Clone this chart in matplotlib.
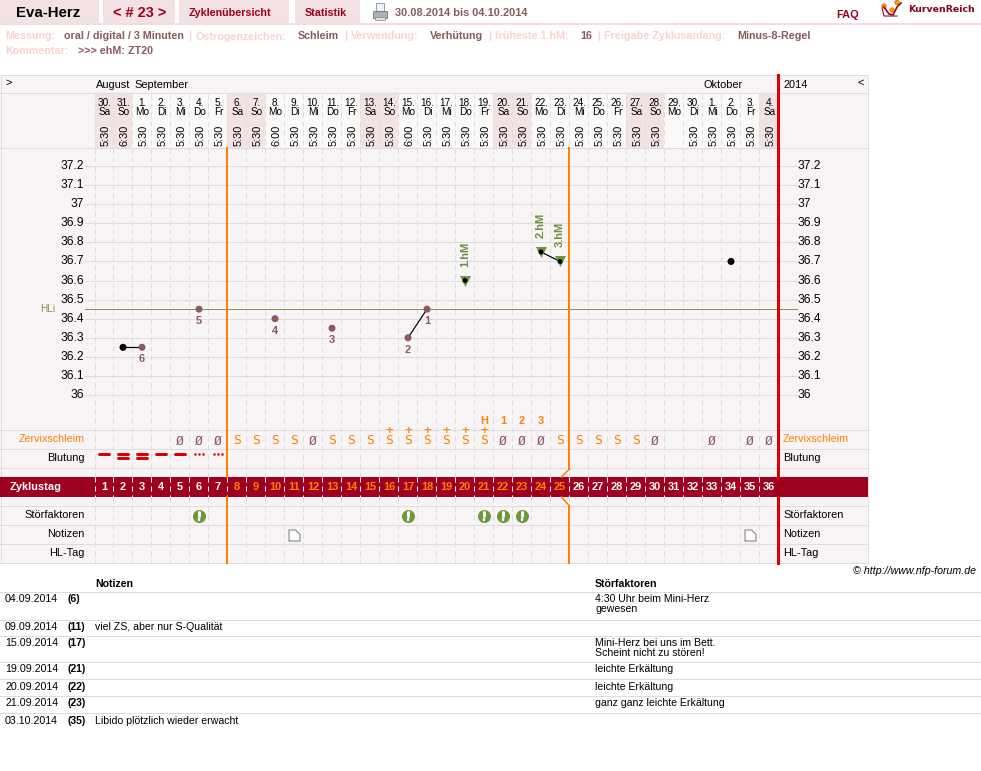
import matplotlib
matplotlib.use('Agg')
import matplotlib.pyplot as plt
from matplotlib.lines import Line2D
from matplotlib.patches import Rectangle, Circle, Polygon
from matplotlib.path import Path
from matplotlib.transforms import blended_transform_factory

plt.rcParams['font.family'] = ['Liberation Sans', 'DejaVu Sans']

# Kalender
tag_nr = [30, 31, 1, 2, 3, 4, 5, 6, 7, 8, 9, 10, 11, 12, 13, 14, 15, 16, 17, 18,
          19, 20, 21, 22, 23, 24, 25, 26, 27, 28, 29, 30, 1, 2, 3, 4]
wochentag = ['Sa', 'So', 'Mo', 'Di', 'Mi', 'Do', 'Fr', 'Sa', 'So', 'Mo', 'Di', 'Mi',
             'Do', 'Fr', 'Sa', 'So', 'Mo', 'Di', 'Mi', 'Do', 'Fr', 'Sa', 'So', 'Mo',
             'Di', 'Mi', 'Do', 'Fr', 'Sa', 'So', 'Mo', 'Di', 'Mi', 'Do', 'Fr', 'Sa']
uhrzeit = ['5:30', '6:30', '5:30', '5:30', '5:30', '5:30', '5:30', '5:30', '5:30',
           '6:00', '5:30', '5:30', '5:30', '5:30', '5:30', '5:30', '6:00', '5:30',
           '5:30', '5:30', '5:30', '5:30', '5:30', '5:30', '5:30', '5:30', '5:30',
           '5:30', '5:30', '5:30', '', '5:30', '5:30', '5:30', '5:30', '5:30']

# Temperaturkurve
temp_ticks = [36, 36.1, 36.2, 36.3, 36.4, 36.5, 36.6, 36.7, 36.8, 36.9, 37, 37.1, 37.2]
temp_labels = ['36', '36.1', '36.2', '36.3', '36.4', '36.5', '36.6', '36.7', '36.8',
               '36.9', '37', '37.1', '37.2']
mess_tage = [2, 3, 6, 10, 13, 17, 18, 20, 24, 25, 34]
mess_werte = [36.25, 36.25, 36.45, 36.40, 36.35, 36.30, 36.45, 36.60, 36.75, 36.70, 36.70]
verbunden = [(2, 3), (17, 18), (24, 25)]
tief_tage = [3, 6, 10, 13, 17, 18]
tief_nummer = ['6', '5', '4', '3', '2', '1']
hoch_tage = [20, 24, 25]
hoch_namen = ['1.hM', '2.hM', '3.hM']
hilfslinie = 36.45

# Zeilen unter der Kurve
zs_tage = [5, 6, 7, 8, 9, 10, 11, 12, 13, 14, 15, 16, 17, 18, 19, 20, 21, 22, 23, 24,
           25, 26, 27, 28, 29, 30, 33, 35, 36]
zs_werte = ['Ø', 'Ø', 'Ø', 'S', 'S', 'S', 'S', 'Ø', 'S', 'S', 'S', 'S+', 'S+', 'S+',
            'S+', 'S+', 'S+', 'Ø', 'Ø', 'Ø', 'S', 'S', 'S', 'S', 'S', 'Ø', 'Ø', 'Ø', 'Ø']
hoch_zs_tage = [21, 22, 23, 24]
hoch_zs_text = ['H', '1', '2', '3']
blutung = [1, 2, 2, 1, 1, 3, 3]
stoer_tage = [6, 17, 21, 22, 23]
notiz_tage = [11, 35]
zyklustage = list(range(1, 37))
freigabe_bis = 7
hoch_ende = 25

# Tabelle
tab_datum = ['04.09.2014', '09.09.2014', '15.09.2014', '19.09.2014', '20.09.2014',
             '21.09.2014', '03.10.2014']
tab_tag = ['(6)', '(11)', '(17)', '(21)', '(22)', '(23)', '(35)']
tab_notiz = ['', 'viel ZS, aber nur S-Qualität', '', '', '', '', 'Libido plötzlich wieder erwacht']
tab_stoer = ['4:30 Uhr beim Mini-Herz\ngewesen', '', 'Mini-Herz bei uns im Bett.\nScheint nicht zu stören!',
             'leichte Erkältung', 'leichte Erkältung', 'ganz ganz leichte Erkältung', '']

BG = '#f8f3f4'
WEEKEND = '#f3e2e4'
GRID = '#dddddd'
ORANGE = '#ff8000'
RED = '#dd0000'
DARKRED = '#a0001f'
BROWN = '#8b5a5f'
GREEN = '#6a9a3a'
PINK = '#f9d2d2'
W, H = 981, 771

fig = plt.figure(figsize=(W / 100, H / 100), dpi=100)
ax = fig.add_axes([0, 0, 1, 1])
ax.set_xlim(0, W)
ax.set_ylim(H, 0)
ax.axis('off')


def px(size):
    return size * 0.72


def txt(x, y, s, size=11, color='black', weight='normal', ha='left', va='center', **kw):
    return ax.text(x, y, s, fontsize=px(size), color=color, fontweight=weight, ha=ha, va=va, **kw)


def hline(y, x0=0, x1=868, color=GRID, lw=1):
    ax.add_line(Line2D([x0, x1], [y, y], color=color, lw=px(lw)))


# Kopfzeile
for x0, x1 in [(0, 99), (103, 175), (179, 289), (295, 360)]:
    ax.add_patch(Rectangle((x0, 0), x1 - x0, 23, fc='#f3e2e4', ec='none'))
ax.add_patch(Rectangle((0, 23), W, 2, fc='#f3dde0', ec='none'))
txt(16, 13, 'Eva-Herz', 15, 'black', 'bold')
txt(113, 13, '< # 23 >', 14.5, DARKRED, 'bold')
txt(189, 12.5, 'Zyklenübersicht', 10.8, DARKRED, 'bold')
txt(305, 12.5, 'Statistik', 10.8, DARKRED, 'bold')
txt(395, 12.5, '30.08.2014 bis 04.10.2014', 11, BROWN, 'bold')
txt(836, 14.5, 'FAQ', 11, DARKRED, 'bold')
txt(908, 10, 'KurvenReich', 9.4, '#8b0020', 'bold', family='DejaVu Sans')

# Druckersymbol
ax.add_patch(Rectangle((376, 3), 8, 8, fc='#eef2f6', ec='#8a8f96', lw=0.6))
ax.add_patch(Polygon([(373, 18), (373, 11), (387, 11), (387, 18)], fc='#aab0b6', ec='#777777', lw=0.6))
ax.add_patch(Rectangle((375, 17), 10, 3, fc='#dfe3e6', ec='#888888', lw=0.5))

# Logo
ax.add_line(Line2D([884, 889, 893, 897, 901], [7, 14, 15, 7, 3], color='#a0001f', lw=1.2))
ax.add_line(Line2D([882, 884, 897], [8, 16, 16], color='#a0001f', lw=0.8))
for cx, cy in [(884, 6), (897, 2.5), (892, 10)]:
    ax.add_patch(Circle((cx, cy), 2.2, fc='#ff9a00', ec='#c05000', lw=0.4))

# Infozeilen
for x, s in [(5, 'Messung:'), (195, 'Östrogenzeichen:'), (351, 'Verwendung:'),
             (495, 'früheste 1.hM:'), (604, 'Freigabe Zyklusanfang:'), (188, '|'),
             (344, '|'), (488, '|'), (597, '|')]:
    txt(x, 36, s, 10.8, PINK, 'bold')
for x, s in [(64, 'oral / digital / 3 Minuten'), (298, 'Schleim'), (430, 'Verhütung'),
             (580, '16'), (737, 'Minus-8-Regel')]:
    txt(x, 36, s, 10.7, BROWN, 'bold')
txt(5, 51, 'Kommentar:', 10.8, PINK, 'bold')
txt(78, 51, '>>> ehM: ZT20', 10.7, BROWN, 'bold')

# Diagrammfläche
ax.add_patch(Rectangle((0, 75), 868, 488, fc=BG, ec='none', zorder=0))
for y in [75, 93, 148, 430, 449, 468, 506, 525, 544, 563]:
    hline(y)
ax.add_line(Line2D([0.5, 0.5], [75, 563], color=GRID, lw=px(1)))
ax.add_line(Line2D([868, 868], [75, 563], color=GRID, lw=px(1)))
ax.add_patch(Rectangle((0, 477), 868, 20, fc=DARKRED, ec='none', zorder=3))

# Temperaturachse: x = Zyklustag, y = Grad
chart = fig.add_axes([94.5 / W, 1 - 430 / H, (778 - 94.5) / W, (430 - 148) / H], zorder=2)
chart.set_xlim(0.5, 36.474)
chart.set_ylim(36 - 35 / 190.8, 36 + 247 / 190.8)
chart.axis('off')
chart.patch.set_alpha(0)

x_tag = blended_transform_factory(chart.transData, ax.transData)
y_temp = blended_transform_factory(ax.transData, chart.transData)

# Wochenenden und Tagesspalten im Kopf
for i, wt in enumerate(wochentag):
    tag = i + 1
    color = WEEKEND if wt in ('Sa', 'So') else '#fbf8f8'
    chart.add_patch(Rectangle((tag - 0.5, 94), 1, 54, fc=color, ec='none', transform=x_tag, clip_on=False, zorder=0))
    chart.text(tag + 0.03, 102.5, f'{tag_nr[i]}.', fontsize=px(10), ha='center', va='center', transform=x_tag, clip_on=False)
    chart.text(tag + 0.03, 112, wt, fontsize=px(10), ha='center', va='center', transform=x_tag, clip_on=False)
    chart.text(tag + 0.07, 135, uhrzeit[i], fontsize=px(11), ha='center', va='center', rotation=90, transform=x_tag, clip_on=False)

# Gestrichelte Tagesgrenzen
for tag in range(0, 36):
    for y0, y1, col in [(94, 477, GRID), (477, 497, 'white'), (497, 563, GRID)]:
        chart.add_line(Line2D([tag + 0.5, tag + 0.5], [y0, y1], color=col, lw=px(1), ls=(0, (5, 4)),
                              transform=x_tag, clip_on=False, zorder=1 if col == GRID else 4))

# Temperaturraster und Beschriftung
for t, lab in zip(temp_ticks, temp_labels):
    chart.add_line(Line2D([85, 797], [t, t], color=GRID, lw=px(1), transform=y_temp, clip_on=False, zorder=1))
    chart.text(84, t, lab, fontsize=px(12), ha='right', va='center', transform=y_temp, clip_on=False)
    chart.text(798, t, lab, fontsize=px(12), ha='left', va='center', transform=y_temp, clip_on=False)
chart.add_line(Line2D([85, 797], [hilfslinie, hilfslinie], color='#7a9a50', lw=px(1), transform=y_temp, clip_on=False, zorder=3))
chart.text(40, hilfslinie, 'HLi', fontsize=px(10), color='#7a9a50', ha='left', va='center', transform=y_temp, clip_on=False)

# Kernzeitenlinien
for y0, y1 in [(148, 477), (497, 563)]:
    chart.add_line(Line2D([freigabe_bis + 0.5] * 2, [y0, y1], color=ORANGE, lw=px(2), transform=x_tag, clip_on=False, zorder=5))
for y0, y1 in [(148, 469), (506, 563)]:
    chart.add_line(Line2D([hoch_ende + 0.5] * 2, [y0, y1], color=ORANGE, lw=px(2), transform=x_tag, clip_on=False, zorder=5))
chart.add_line(Line2D([hoch_ende + 0.5, hoch_ende + 0.08], [469, 477], color=ORANGE, lw=px(1.5), transform=x_tag, clip_on=False, zorder=5))
chart.add_line(Line2D([hoch_ende + 0.08, hoch_ende + 0.5], [497, 506], color=ORANGE, lw=px(1.5), transform=x_tag, clip_on=False, zorder=5))
for y0, y1 in [(75, 477), (497, 563)]:
    chart.add_line(Line2D([36.47, 36.47], [y0, y1], color=RED, lw=px(3), transform=x_tag, clip_on=False, zorder=5))

# Kurve
werte = dict(zip(mess_tage, mess_werte))
for a, b in verbunden:
    chart.plot([a, b], [werte[a], werte[b]], color='black', lw=px(1.2), zorder=6)
farben = [BROWN if t in tief_tage else 'black' for t in mess_tage]
groessen = [px(5) ** 2 if t in hoch_tage else px(7) ** 2 for t in mess_tage]
hoch_w = [werte[t] for t in hoch_tage]
chart.scatter(hoch_tage, hoch_w, marker='v', s=px(11) ** 2, color=GREEN, linewidths=0, zorder=7)
chart.scatter(mess_tage, mess_werte, s=groessen, c=farben, linewidths=0, zorder=8)
for t, n in zip(tief_tage, tief_nummer):
    chart.annotate(n, (t, werte[t]), xytext=(0, px(-7)), textcoords='offset points', ha='center', va='top',
                   fontsize=px(11), fontweight='bold', color=BROWN, zorder=8)
for t, n in zip(hoch_tage, hoch_namen):
    chart.annotate(n, (t, werte[t]), xytext=(0, px(14)), textcoords='offset points', ha='center', va='bottom',
                   rotation=90, fontsize=px(11), fontweight='bold', color='#6a8f3a', zorder=8)

# Zervixschleim
for t, s in zip(hoch_zs_tage, hoch_zs_text):
    chart.text(t, 421, s, fontsize=px(11), fontweight='bold', color=ORANGE, ha='center', va='center', transform=x_tag, clip_on=False)
for t, s in zip(zs_tage, zs_werte):
    col = BROWN if s == 'Ø' else ORANGE
    inhalt = '+\nS' if s.endswith('+') else s
    chart.text(t, 447.5, inhalt, fontsize=px(13), color=col, ha='center', va='bottom', transform=x_tag, clip_on=False,
               family='DejaVu Sans Mono', linespacing=0.75)

# Blutung
for i, b in enumerate(blutung):
    tag = i + 1
    if b == 1:
        chart.add_line(Line2D([tag - 0.28, tag + 0.28], [454, 454], color=RED, lw=px(3), transform=x_tag, clip_on=False, solid_capstyle='round'))
    elif b == 2:
        for y in (454, 458):
            chart.add_line(Line2D([tag - 0.28, tag + 0.28], [y, y], color=RED, lw=px(3), transform=x_tag, clip_on=False, solid_capstyle='round'))
    else:
        chart.scatter([tag - 0.2, tag, tag + 0.2], [454] * 3, s=px(2.5) ** 2, color=RED, linewidths=0, transform=x_tag, clip_on=False)

# Zyklustage im Balken
for t in zyklustage:
    col = ORANGE if freigabe_bis < t <= hoch_ende else 'white'
    chart.text(t, 487, str(t), fontsize=px(11), fontweight='bold', color=col, ha='center', va='center', transform=x_tag, clip_on=False, zorder=6)

# Störfaktoren und Notizen
chart.scatter(stoer_tage, [515.5] * len(stoer_tage), s=px(13) ** 2, color=GREEN, linewidths=0, transform=x_tag, clip_on=False, zorder=6)
for t in stoer_tage:
    chart.add_line(Line2D([t, t], [511.5, 516], color='white', lw=px(3), transform=x_tag, clip_on=False, zorder=7, solid_capstyle='round'))
    chart.add_line(Line2D([t, t], [519, 519.6], color='white', lw=px(2.5), transform=x_tag, clip_on=False, zorder=7, solid_capstyle='round'))
notiz_marker = Path([(-5, -5), (5, -5), (5, 1), (1, 5), (-5, 5), (-5, -5)])
chart.scatter(notiz_tage, [534.5] * len(notiz_tage), s=px(11) ** 2, marker=notiz_marker, facecolor='white', edgecolor='#777777',
              linewidths=0.7, transform=x_tag, clip_on=False, zorder=6)

# Zeilenbeschriftung
txt(85, 439, 'Zervixschleim', 10.6, ORANGE, ha='right')
txt(85, 458, 'Blutung', 11, ha='right')
txt(85, 515, 'Störfaktoren', 11, ha='right')
txt(85, 534, 'Notizen', 11, ha='right')
txt(85, 553, 'HL-Tag', 11, ha='right')
txt(783, 439, 'Zervixschleim', 10.6, ORANGE)
txt(783, 458, 'Blutung', 11)
txt(783, 515, 'Störfaktoren', 11)
txt(783, 534, 'Notizen', 11)
txt(783, 553, 'HL-Tag', 11)
ax.text(10, 487, 'Zyklustag', fontsize=px(11), fontweight='bold', color='white', va='center', zorder=6)

# Monatszeile
txt(5, 83, '>', 11)
txt(96, 85.5, 'August', 11)
txt(134, 85.5, 'September', 11)
txt(704, 85.5, 'Oktober', 11)
txt(783, 85.5, '2014', 11)
txt(864, 83, '<', 11, ha='right')

# Notizentabelle
txt(976, 571, '© http://www.nfp-forum.de', 10.6, ha='right', style='italic')
txt(95, 584, 'Notizen', 10.5, weight='bold')
txt(595, 584, 'Störfaktoren', 10.5, weight='bold')
zeilen_oben = [591.5, 619.5, 635.5, 661.5, 678.5, 695.5, 712.5]
for y in zeilen_oben:
    hline(y, 0, W)
for y, d, t, n, s in zip(zeilen_oben, tab_datum, tab_tag, tab_notiz, tab_stoer):
    txt(5, y + 3, d, 10.6, va='top')
    txt(68, y + 3, t, 10.5, weight='bold', va='top')
    txt(95, y + 3, n, 10.5, va='top')
    txt(595, y + 3, s, 10.5, va='top', linespacing=1.0)

plt.savefig('out.png', dpi=100)
